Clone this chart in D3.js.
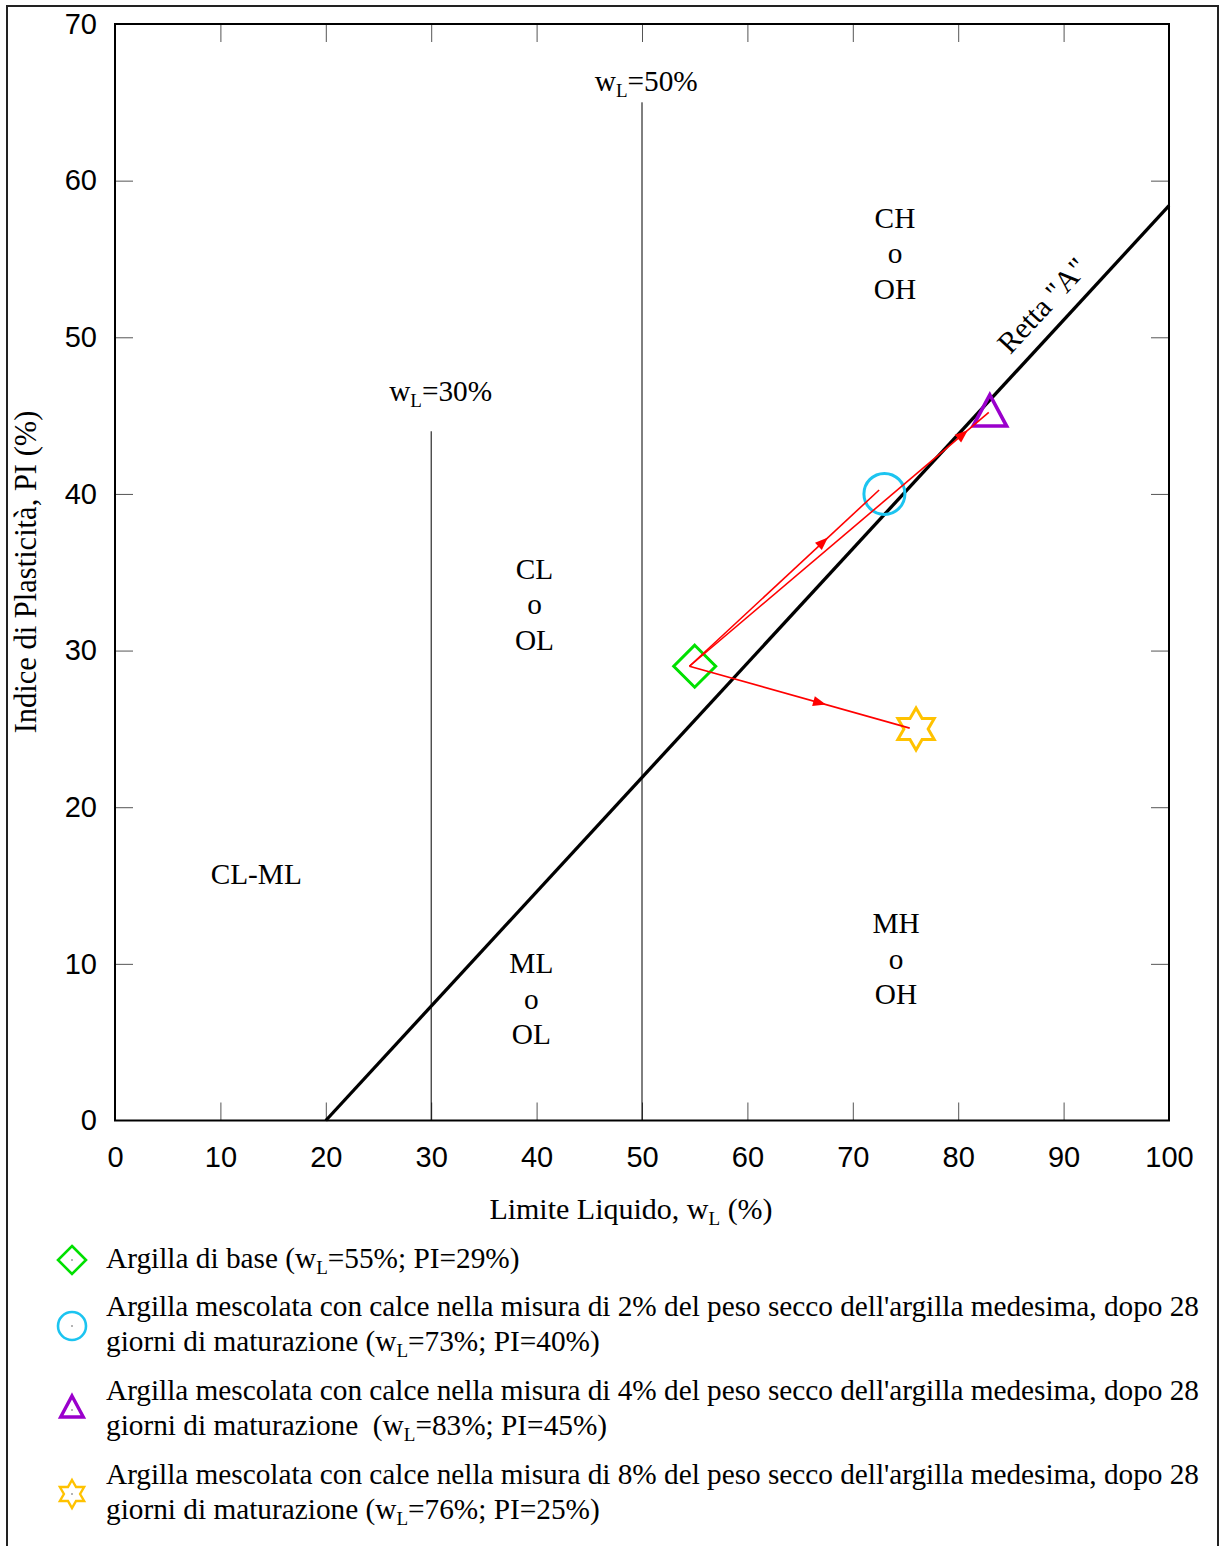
<!DOCTYPE html>
<html>
<head>
<meta charset="utf-8">
<script src="https://cdn.jsdelivr.net/npm/d3@7"></script>
<style>
  html, body { margin: 0; padding: 0; background: #fff; }
  svg { display: block; }
</style>
</head>
<body>
<svg id="chart" width="1220" height="1546"></svg>
<script>
// Casagrande plasticity chart: liquid limit vs plasticity index

const xTicks = [0, 10, 20, 30, 40, 50, 60, 70, 80, 90, 100];
const yTicks = [0, 10, 20, 30, 40, 50, 60, 70];

// "A" line: PI = 0.73 (wL - 20)
const aLine = [[20, 0], [100, 58.4]];

// boundary lines at wL = 30% and wL = 50%
const limitLines = [
  { wl: 30, top: 44, label: "30%", lx: 30.9, ly: 45.95 },
  { wl: 50, top: 65, label: "50%", lx: 50.4, ly: 65.7 }
];

// soil group names
const zoneLabels = [
  { lines: ["CH", "o", "OH"], x: 74.0, y: 57.0 },
  { lines: ["CL", "o", "OL"], x: 39.8, y: 34.6 },
  { lines: ["ML", "o", "OL"], x: 39.5, y: 9.4 },
  { lines: ["MH", "o", "OH"], x: 74.1, y: 11.96 },
  { lines: ["CL-ML"], x: 13.4, y: 15.1 }
];

// samples: liquid limit and plasticity index
const sampleNames = ["base", "lime2", "lime4", "lime8"];
const sampleWL = [55, 73, 83, 76];
const samplePI = [29, 40, 45, 25];
const sampleShape = ["diamond", "circle", "triangle", "star"];
const sampleColor = ["#00e000", "#1cc4f0", "#9a00cc", "#ffc200"];

// trend arrows from the untreated clay towards each treated mix
const arrowFrom = [54.5, 29.0];
const arrowTo = [[72.5, 40.25], [82.9, 45.2], [75.4, 25.05]];
const arrowHeadAt = [0.73, 0.93, 0.62];

// legend text (second lines contain the subscripted wL)
const legendRows = [
  { lines: [[["Argilla di base (w"], ["L", "sub"], ["=55%; PI=29%)"]]], justify: false },
  { lines: [[["Argilla mescolata con calce nella misura di 2% del peso secco dell'argilla medesima, dopo 28"]],
            [["giorni di maturazione (w"], ["L", "sub"], ["=73%; PI=40%)"]]], justify: true },
  { lines: [[["Argilla mescolata con calce nella misura di 4% del peso secco dell'argilla medesima, dopo 28"]],
            [["giorni di maturazione  (w"], ["L", "sub"], ["=83%; PI=45%)"]]], justify: true },
  { lines: [[["Argilla mescolata con calce nella misura di 8% del peso secco dell'argilla medesima, dopo 28"]],
            [["giorni di maturazione (w"], ["L", "sub"], ["=76%; PI=25%)"]]], justify: true }
];

const SERIF = "'Liberation Serif', 'Times New Roman', serif";
const SANS = "'Liberation Sans', Arial, sans-serif";
const FS = 29.3;      // serif text size
const SUB = 19;       // subscript size

const svg = d3.select("#chart");

// outer frame
svg.append("path")
  .attr("d", "M7,1560 V6 H1218 V1560")
  .attr("fill", "none").attr("stroke", "#222").attr("stroke-width", 2);

const plot = { left: 115, right: 1169, top: 24, bottom: 1120.5 };
const x = d3.scaleLinear().domain([0, 100]).range([plot.left, plot.right]);
const y = d3.scaleLinear().domain([0, 70]).range([plot.bottom, plot.top]);

// axes with inward ticks
const tickLen = 18;
function styleAxis(g, withLabels) {
  g.select(".domain").remove();
  g.selectAll(".tick line").attr("stroke", "#555").attr("stroke-width", 1);
  g.selectAll(".tick text")
    .attr("font-family", SANS).attr("font-size", 29).attr("fill", "#000");
  if (!withLabels) g.selectAll(".tick text").remove();
}
const innerX = xTicks.filter(d => d > 0 && d < 100);
const innerY = yTicks.filter(d => d > 0 && d < 70);

svg.append("g").attr("transform", `translate(0,${plot.bottom})`)
  .call(d3.axisBottom(x).tickValues(xTicks).tickSize(-tickLen).tickPadding(26))
  .call(g => {
    g.selectAll(".tick").filter(d => d === 0 || d === 100).select("line").remove();
    styleAxis(g, true);
  });
svg.append("g").attr("transform", `translate(0,${plot.top})`)
  .call(d3.axisTop(x).tickValues(innerX).tickSize(-tickLen))
  .call(g => styleAxis(g, false));
svg.append("g").attr("transform", `translate(${plot.left},0)`)
  .call(d3.axisLeft(y).tickValues(yTicks).tickSize(-tickLen).tickPadding(18))
  .call(g => {
    g.selectAll(".tick").filter(d => d === 0 || d === 70).select("line").remove();
    styleAxis(g, true);
  });
svg.append("g").attr("transform", `translate(${plot.right},0)`)
  .call(d3.axisRight(y).tickValues(innerY).tickSize(-tickLen))
  .call(g => styleAxis(g, false));

// plot frame
svg.append("rect")
  .attr("x", plot.left).attr("y", plot.top)
  .attr("width", plot.right - plot.left).attr("height", plot.bottom - plot.top)
  .attr("fill", "none").attr("stroke", "#000").attr("stroke-width", 2);

// text with a subscripted part
function addSubText(sel, parts, subSize) {
  let inSub = false;
  parts.forEach(p => {
    const t = sel.append("tspan").text(p[0]);
    if (p[1] === "sub") {
      t.attr("font-size", subSize).attr("dy", 6);
      inSub = true;
    } else if (inSub) {
      t.attr("dy", -6);
      inSub = false;
    }
  });
}

// axis titles
const xTitle = svg.append("text")
  .attr("x", 631).attr("y", 1219).attr("text-anchor", "middle")
  .attr("font-family", SERIF).attr("font-size", 30);
addSubText(xTitle, [["Limite Liquido, w"], ["L", "sub"], [" (%)"]], SUB);

svg.append("text")
  .attr("transform", "translate(36,572) rotate(-90)")
  .attr("text-anchor", "middle")
  .attr("font-family", SERIF).attr("font-size", 30.5)
  .text("Indice di Plasticità, PI (%)");

// liquid-limit boundaries
limitLines.forEach(l => {
  svg.append("line")
    .attr("x1", x(l.wl)).attr("x2", x(l.wl))
    .attr("y1", y(0)).attr("y2", y(l.top))
    .attr("stroke", "#000").attr("stroke-width", 1);
  const t = svg.append("text")
    .attr("x", x(l.lx)).attr("y", y(l.ly)).attr("text-anchor", "middle")
    .attr("font-family", SERIF).attr("font-size", FS);
  addSubText(t, [["w"], ["L", "sub"], ["=" + l.label]], SUB);
});

// A line
svg.append("path")
  .attr("d", d3.line().x(d => x(d[0])).y(d => y(d[1]))(aLine))
  .attr("fill", "none").attr("stroke", "#000").attr("stroke-width", 3.3);

const angle = Math.atan2(y(aLine[0][1]) - y(aLine[1][1]), x(aLine[1][0]) - x(aLine[0][0])) * 180 / Math.PI;
svg.append("text")
  .attr("transform", `translate(${x(88.7)},${y(51.6)}) rotate(${-angle})`)
  .attr("text-anchor", "middle")
  .attr("font-family", SERIF).attr("font-size", 30)
  .text('Retta "A"');

// zone labels
zoneLabels.forEach(z => {
  const t = svg.append("text")
    .attr("text-anchor", "middle")
    .attr("font-family", SERIF).attr("font-size", FS);
  z.lines.forEach((ln, i) => {
    t.append("tspan").attr("x", x(z.x)).attr("y", y(z.y) + i * 35.5).text(ln);
  });
});

// marker shapes
function shapePath(shape, s) {
  if (shape === "diamond") {
    return `M0,${-s}L${s},0L0,${s}L${-s},0Z`;
  }
  if (shape === "triangle") {
    const a = s * 0.97, b = a / 2, w = s * 0.78;
    return `M0,${-a}L${w},${b}L${-w},${b}Z`;
  }
  if (shape === "star") {
    const R = s, r = s / Math.sqrt(3);
    const pts = [];
    for (let i = 0; i < 12; i++) {
      const ang = -Math.PI / 2 + i * Math.PI / 6;
      const rad = i % 2 === 0 ? R : r;
      pts.push([rad * Math.cos(ang), rad * Math.sin(ang)]);
    }
    return "M" + pts.map(p => p.join(",")).join("L") + "Z";
  }
  return null;
}
function drawMarker(g, shape, color, s, sw) {
  if (shape === "circle") {
    g.append("circle").attr("r", s).attr("fill", "none")
      .attr("stroke", color).attr("stroke-width", sw);
  } else {
    g.append("path").attr("d", shapePath(shape, s)).attr("fill", "none")
      .attr("stroke", color).attr("stroke-width", sw).attr("stroke-linejoin", "miter");
  }
}

const markerSize = { diamond: 21, circle: 20.5, triangle: 21.5, star: 21 };
const markerStroke = { diamond: 3, circle: 3, triangle: 3.6, star: 3 };
const legendSize = { diamond: 14, circle: 14, triangle: 14.5, star: 14 };
const legendStroke = { diamond: 2.6, circle: 2.6, triangle: 3.4, star: 2.4 };

sampleNames.forEach((n, i) => {
  const g = svg.append("g").attr("transform", `translate(${x(sampleWL[i])},${y(samplePI[i])})`);
  drawMarker(g, sampleShape[i], sampleColor[i], markerSize[sampleShape[i]], markerStroke[sampleShape[i]]);
});

// arrows
const red = "#ff0000";
arrowTo.forEach((to, i) => {
  const x0 = x(arrowFrom[0]), y0 = y(arrowFrom[1]);
  const x1 = x(to[0]), y1 = y(to[1]);
  svg.append("line")
    .attr("x1", x0).attr("y1", y0).attr("x2", x1).attr("y2", y1)
    .attr("stroke", red).attr("stroke-width", 1.6);
  const f = arrowHeadAt[i];
  const tx = x0 + (x1 - x0) * f, ty = y0 + (y1 - y0) * f;
  const ang = Math.atan2(y1 - y0, x1 - x0) * 180 / Math.PI;
  svg.append("path")
    .attr("d", "M0,0L-13,-5L-13,5Z")
    .attr("transform", `translate(${tx},${ty}) rotate(${ang})`)
    .attr("fill", red);
});

// legend
const legendMarkerY = [1260, 1326, 1410, 1494];
const legendBase = [[1268], [1316, 1351], [1400, 1435], [1484, 1519]];
legendRows.forEach((row, i) => {
  const g = svg.append("g").attr("transform", `translate(72,${legendMarkerY[i]})`);
  drawMarker(g, sampleShape[i], sampleColor[i], legendSize[sampleShape[i]], legendStroke[sampleShape[i]]);
  g.append("circle").attr("r", 0.8).attr("fill", "#555");
  row.lines.forEach((parts, j) => {
    const t = svg.append("text")
      .attr("x", 106).attr("y", legendBase[i][j])
      .attr("font-family", SERIF).attr("font-size", FS)
      .style("white-space", "pre");
    if (row.justify && j === 0) {
      t.attr("textLength", 1093).attr("lengthAdjust", "spacing");
    }
    addSubText(t, parts, SUB);
  });
});
</script>
</body>
</html>
